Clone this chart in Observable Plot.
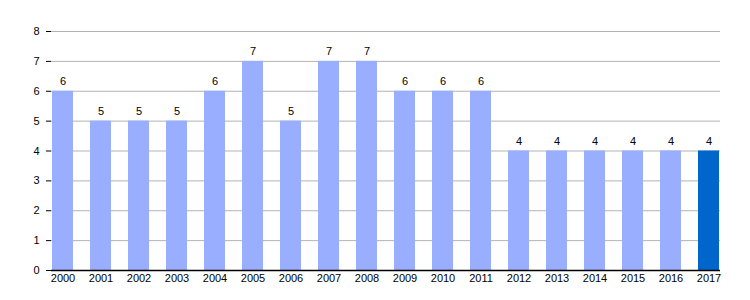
<!DOCTYPE html>
<html><head><meta charset="utf-8">
<script src="https://cdn.jsdelivr.net/npm/d3@7"></script>
<script src="https://cdn.jsdelivr.net/npm/@observablehq/plot@0.6"></script>
<style>body{margin:0;background:#fff;font-family:"Liberation Sans",Arial,sans-serif;}</style>
</head><body><div id="chart"></div>
<script>
const years = ["2000","2001","2002","2003","2004","2005","2006","2007","2008","2009","2010","2011","2012","2013","2014","2015","2016","2017"];
const values = [6,5,5,5,6,7,5,7,7,6,6,6,4,4,4,4,4,4];
const highlight = ["2017"];
const yTicks = [0,1,2,3,4,5,6,7,8];
const data = years.map((y,i)=>({year:y, value:values[i], hi: highlight.includes(y)}));
const chart = Plot.plot({
  width: 750, height: 300,
  marginLeft: 51, marginRight: 30, marginTop: 31, marginBottom: 30,
  style: {fontFamily: '"Liberation Sans",Arial,sans-serif', fontSize: "11px", color: "#000", background: "#fff"},
  x: {domain: years, paddingInner: 0.45, paddingOuter: 0, label: null},
  y: {domain: [0,8], ticks: yTicks, label: null},
  marks: [
    Plot.gridY(yTicks, {stroke: "#b3b3b3", strokeOpacity: 1}),
    Plot.barY(data, {x: "year", y: "value", fill: d => d.hi ? "#0066cc" : "#99aeff"}),
    Plot.text(data, {x: "year", y: "value", text: d => String(d.value), dy: -10, fill: "#000", fontSize: 11}),
    Plot.axisY({ticks: yTicks, tickSize: 5, tickPadding: 7, stroke: "#000", fill: "#000", fontSize: 11, label: null}),
    Plot.axisX({tickSize: 0, tickPadding: 4, fill: "#000", fontSize: 11, label: null}),
    Plot.ruleX([0], {frameAnchor: "left", stroke: "#000", strokeWidth: 1.5}),
    Plot.ruleY([0], {stroke: "#000", strokeWidth: 1.5})
  ]
});
document.getElementById("chart").appendChild(chart);
</script></body></html>
